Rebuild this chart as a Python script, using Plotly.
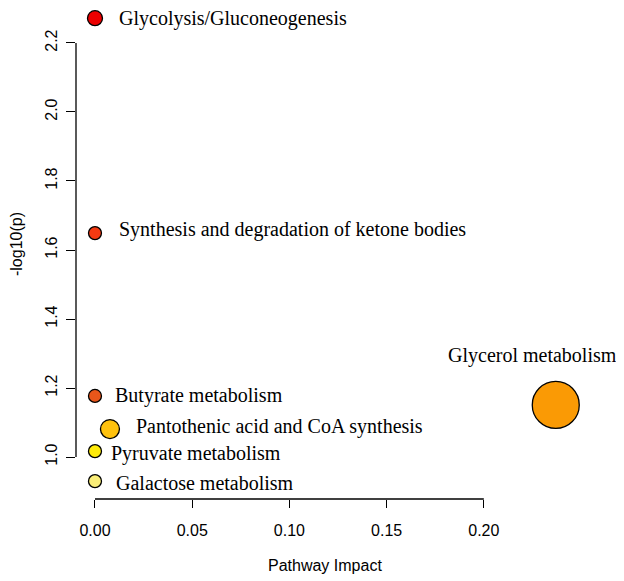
import plotly.graph_objects as go

# pathway topology results
pathways = ['Glycolysis/Gluconeogenesis', 'Synthesis and degradation of ketone bodies',
            'Butyrate metabolism', 'Pantothenic acid and CoA synthesis',
            'Pyruvate metabolism', 'Galactose metabolism', 'Glycerol metabolism']
impact = [0.0, 0.0, 0.0, 0.0077, 0.0, 0.0, 0.237]
neg_log_p = [2.272, 1.649, 1.177, 1.081, 1.017, 0.930, 1.151]

x_ticks = [0.00, 0.05, 0.10, 0.15, 0.20]
y_ticks = [1.0, 1.2, 1.4, 1.6, 1.8, 2.0, 2.2]

# styling
fill = ['#EC0000', '#F43A12', '#E8561A', '#FFC20E', '#FFEB0A', '#FAEE78', '#FA9A05']
circle_px = [15, 13, 13, 19, 13, 13, 47]
# label offsets in pixels (xshift, yshift, anchor)
label_pos = [(22, 0, 'left'), (22, 4, 'left'), (18, 0, 'left'), (24, 3, 'left'),
             (14, -2, 'left'), (19, -2, 'left'), (-23, 49, 'center')]

fig = go.Figure()
fig.add_scatter(x=impact, y=neg_log_p, mode='markers', cliponaxis=False,
                marker=dict(size=circle_px, color=fill,
                            line=dict(color='black', width=1.3), opacity=1),
                hovertext=pathways, showlegend=False)

for name, xv, yv, (dx, dy, anc) in zip(pathways, impact, neg_log_p, label_pos):
    fig.add_annotation(x=xv, y=yv, text=name, showarrow=False, xanchor=anc,
                       yanchor='middle', xshift=dx, yshift=dy,
                       font=dict(family='Liberation Serif', size=20, color='black'))

# R-style axis lines that only span the tick range
fig.add_shape(type='line', xref='x', yref='paper', x0=x_ticks[0], x1=x_ticks[-1],
              y0=0, y1=0, line=dict(color='black', width=1.3))
fig.add_shape(type='line', xref='paper', yref='y', x0=0, x1=0,
              y0=y_ticks[0], y1=y_ticks[-1], line=dict(color='black', width=1.3))

axis_font = dict(family='Liberation Sans', size=16, color='black')

# axis titles as annotations so the plot area stays fixed
fig.add_annotation(text='Pathway Impact', xref='paper', yref='paper', x=0.4535, y=0,
                   yshift=-66, showarrow=False, xanchor='center', yanchor='middle',
                   font=axis_font)
fig.add_annotation(text='-log10(p)', xref='paper', yref='paper', x=0, y=0.5193,
                   xshift=-60, showarrow=False, xanchor='center', yanchor='middle',
                   textangle=-90, font=axis_font)

fig.update_xaxes(range=[-0.00977, 0.2721], tickvals=x_ticks,
                 ticktext=['%.2f' % v for v in x_ticks], automargin=False,
                 showline=False, showgrid=False, zeroline=False,
                 ticks='outside', ticklen=8, tickwidth=1.3, tickcolor='black',
                 ticklabelstandoff=9, tickfont=axis_font)
fig.update_yaxes(range=[0.8783, 2.3014], tickvals=y_ticks,
                 ticktext=['%.1f' % v for v in y_ticks], automargin=False,
                 showline=False, showgrid=False, zeroline=False,
                 ticks='outside', ticklen=9, tickwidth=1.3, tickcolor='black',
                 tickangle=-90, ticklabelstandoff=3, tickfont=axis_font)

# the page body adds an 8px margin, so the figure is 8px smaller each way
fig.update_layout(
    width=616, height=573,
    margin=dict(l=68, r=0, t=0, b=82),
    plot_bgcolor='white', paper_bgcolor='white',
)

fig.write_html('out.html')
